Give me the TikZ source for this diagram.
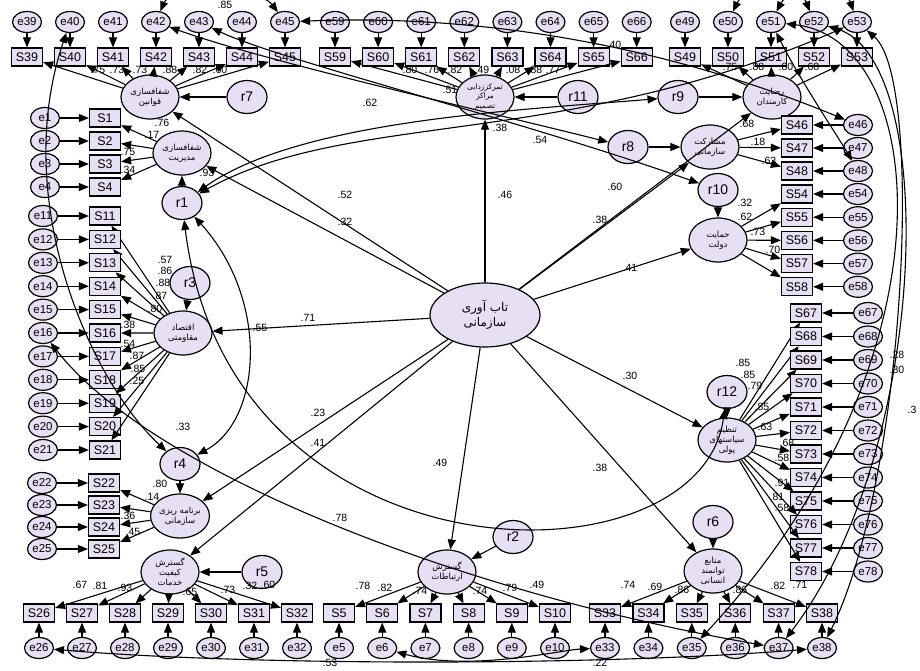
\documentclass[tikz,border=0pt]{standalone}
\usepackage{fontspec}
\setmainfont{Liberation Sans}
\newfontfamily\fafont[Script=Arabic]{DejaVu Sans}
\TeXXeTstate=1
\usetikzlibrary{shapes.geometric,arrows.meta}
\definecolor{lav}{RGB}{231,224,244}
\newcommand\RL[1]{\beginR #1\endR}
\begin{document}
\begin{tikzpicture}[x=1pt,y=-1pt,
  obs/.style={draw,line width=1.2pt,fill=lav,minimum width=31pt,minimum height=18pt,inner sep=0pt,font=\fontsize{12.5}{12.5}\selectfont},
  err/.style={draw,line width=1.2pt,ellipse,fill=lav,minimum width=29pt,minimum height=21pt,inner sep=0pt,font=\fontsize{11.5}{11.5}\selectfont},
  lat/.style={draw,line width=1.2pt,ellipse,fill=lav,minimum width=58pt,minimum height=44pt,inner sep=0pt,align=center,font=\fafont\fontsize{8.5}{10}\selectfont},
  res/.style={draw,line width=1.2pt,ellipse,fill=lav,minimum width=40pt,minimum height=33pt,inner sep=0pt,font=\fontsize{14}{14}\selectfont},
  arr/.style={-{Triangle[length=10pt,width=8pt]},line width=1.1pt},
  cov/.style={{Triangle[length=10pt,width=8pt]}-{Triangle[length=10pt,width=8pt]},line width=1.1pt},
  lab/.style={font=\fontsize{10.5}{10.5}\selectfont,inner sep=0pt}
]
\useasboundingbox (0,0) rectangle (920,670);
\fill[white] (0,0) rectangle (920,670);

% ---------- latent variables ----------
\node[lat,minimum width=110pt,minimum height=64pt,font=\fafont\fontsize{12}{15}\selectfont] (C) at (485,315) {\RL{تاب آوری}\\\RL{سازمانی}};
\node[lat] (L7) at (150,97) {\RL{شفافسازی}\\\RL{قوانین}};
\node[lat] (L1) at (182,153) {\RL{شفافسازی}\\\RL{مدیریت}};
\node[lat] (L3) at (183,333) {\RL{اقتصاد}\\\RL{مقاومتی}};
\node[lat] (L4) at (180,516) {\RL{برنامه ریزی}\\\RL{سازمانی}};
\node[lat] (L5) at (170,572) {\RL{گسترش}\\\RL{کیفیت}\\\RL{خدمات}};
\node[lat] (L2) at (447,572) {\RL{گسترش}\\\RL{ارتباطات}};
\node[lat] (L6) at (713,571) {\RL{منابع}\\\RL{توانمند}\\\RL{انسانی}};
\node[lat] (L12) at (727,440) {\RL{تنظیم}\\\RL{سیاستهای}\\\RL{پولی}};
\node[lat] (L10) at (718,240) {\RL{حمایت}\\\RL{دولت}};
\node[lat] (L8) at (710,147) {\RL{مشارکت}\\\RL{سازمانی}};
\node[lat] (L9) at (772,97) {\RL{رضایت}\\\RL{کارمندان}};
\node[lat,font=\fafont\fontsize{7.5}{9.5}\selectfont] (L11) at (485,97) {\RL{تمرکززدایی}\\\RL{مراکز}\\\RL{تصمیم}};

% ---------- residuals ----------
\node[res] (r7) at (247,97) {r7};
\node[res] (r1) at (182,203) {r1};
\node[res] (r3) at (190,283) {r3};
\node[res] (r4) at (180,464) {r4};
\node[res] (r5) at (262,572) {r5};
\node[res] (r2) at (513,537) {r2};
\node[res] (r6) at (713,522) {r6};
\node[res] (r12) at (727,392) {r12};
\node[res] (r10) at (718,190) {r10};
\node[res] (r8) at (628,147) {r8};
\node[res] (r9) at (678,97) {r9};
\node[res] (r11) at (578,97) {r11};

% ---------- indicators and errors ----------
\foreach \n [count=\i from 0] in {39,...,45} {
  \node[obs] (S\n) at ({27+43*\i},57) {S\n};
  \node[err] (e\n) at ({27+43*\i},22) {e\n};
  \draw[arr] (e\n) -- (S\n); \draw[arr] (L7) -- (S\n);}
\foreach \n [count=\i from 0] in {59,...,66} {
  \node[obs] (S\n) at ({335+43.1*\i},57) {S\n};
  \node[err] (e\n) at ({335+43.1*\i},22) {e\n};
  \draw[arr] (e\n) -- (S\n); \draw[arr] (L11) -- (S\n);}
\foreach \n [count=\i from 0] in {49,...,53} {
  \node[obs] (S\n) at ({685+43*\i},57) {S\n};
  \node[err] (e\n) at ({685+43*\i},22) {e\n};
  \draw[arr] (e\n) -- (S\n); \draw[arr] (L9) -- (S\n);}
\foreach \n/\y in {1/118,2/141,3/164,4/187} {
  \node[obs] (S\n) at (105,\y) {S\n};
  \node[err] (e\n) at (45,\y) {e\n};
  \draw[arr] (e\n) -- (S\n); \draw[arr] (L1) -- (S\n);}
\foreach \n [count=\i from 0] in {11,...,21} {
  \node[obs] (S\n) at (105,{216+23.4*\i}) {S\n};
  \node[err] (e\n) at (43,{216+23.4*\i}) {e\n};
  \draw[arr] (e\n) -- (S\n); \draw[arr] (L3) -- (S\n);}
\foreach \n/\y in {22/483,23/505,24/527,25/549} {
  \node[obs] (S\n) at (104,\y) {S\n};
  \node[err] (e\n) at (42,\y) {e\n};
  \draw[arr] (e\n) -- (S\n); \draw[arr] (L4) -- (S\n);}
\foreach \n [count=\i from 0] in {26,...,32} {
  \node[obs] (S\n) at ({39+43*\i},613) {S\n};
  \node[err] (e\n) at ({39+43*\i},648) {e\n};
  \draw[arr] (e\n) -- (S\n); \draw[arr] (L5) -- (S\n);}
\foreach \n [count=\i from 0] in {5,...,10} {
  \node[obs] (S\n) at ({339+43.2*\i},613) {S\n};
  \node[err] (e\n) at ({339+43.2*\i},648) {e\n};
  \draw[arr] (e\n) -- (S\n); \draw[arr] (L2) -- (S\n);}
\foreach \n [count=\i from 0] in {33,...,38} {
  \node[obs] (S\n) at ({605+43.4*\i},613) {S\n};
  \node[err] (e\n) at ({605+43.4*\i},648) {e\n};
  \draw[arr] (e\n) -- (S\n); \draw[arr] (L6) -- (S\n);}
\foreach \n/\y in {46/125,47/148,48/171} {
  \node[obs] (S\n) at (797,\y) {S\n};
  \node[err] (e\n) at (858,\y) {e\n};
  \draw[arr] (e\n) -- (S\n); \draw[arr] (L8) -- (S\n);}
\foreach \n [count=\i from 0] in {54,...,58} {
  \node[obs] (S\n) at (797,{194+23.2*\i}) {S\n};
  \node[err] (e\n) at (858,{194+23.2*\i}) {e\n};
  \draw[arr] (e\n) -- (S\n); \draw[arr] (L10) -- (S\n);}
\foreach \n [count=\i from 0] in {67,...,78} {
  \node[obs] (S\n) at (806,{313+23.5*\i}) {S\n};
  \node[err] (e\n) at (868,{313+23.5*\i}) {e\n};
  \draw[arr] (e\n) -- (S\n); \draw[arr] (L12) -- (S\n);}

% ---------- residual paths ----------
\foreach \r/\l in {r7/L7,r1/L1,r3/L3,r4/L4,r5/L5,r2/L2,r6/L6,r12/L12,r10/L10,r8/L8,r9/L9,r11/L11}
  \draw[arr] (\r) -- (\l);

% ---------- structural paths ----------
\foreach \l in {L7,L1,L3,L4,L5,L2,L6,L12,L10,L8,L9,L11}
  \draw[arr] (C) -- (\l);

% ---------- covariances ----------
\draw[cov] (r1) .. controls (230,590) and (700,590) .. (r12);
\draw[cov] (r1) .. controls (270,300) and (262,420) .. (r4);
\draw[cov] (e40) .. controls (10,200) and (90,380) .. (r4);
\draw[cov] (r1) .. controls (300,120) and (520,110) .. (r9);
\draw[cov] (r1) .. controls (350,110) and (560,150) .. (e53);
\draw[cov] (e42) .. controls (260,60) and (480,110) .. (r8);
\draw[cov] (e43) .. controls (280,60) and (520,120) .. (r10);
\draw[cov] (e42) .. controls (170,-12) and (260,-12) .. (e45);
\draw[cov] (e45) .. controls (450,15) and (640,35) .. (e46);
\draw[cov] (e50) .. controls (745,-14) and (800,-14) .. (e52);
\draw[cov] (e51) .. controls (790,-14) and (845,-14) .. (e53);
\draw[cov] (e51) .. controls (800,80) and (840,140) .. (e48);
\draw[cov] (e51) .. controls (930,40) and (960,360) .. (e35);
\draw[cov] (e52) .. controls (940,60) and (930,450) .. (e37);
\draw[cov] (e53) .. controls (925,80) and (905,480) .. (e38);
\draw[cov] (e26) .. controls (250,666) and (600,666) .. (e38);
\draw[cov] (e6) .. controls (470,672) and (560,650) .. (e33);
\draw[cov] (e16) .. controls (150,470) and (450,590) .. (e37);

% ---------- coefficient labels ----------
\foreach \t/\x/\y [count=\k] in {
 .52/345/195, .32/345/222, .46/505/195, .60/615/187, .38/600/220, .41/630/268,
 .30/630/376, .38/600/468, .49/440/463, .23/318/413, .41/318/443, .71/308/318, .55/260/328,
 .62/370/103, .54/540/140, .38/500/128, .33/183/427, .78/340/518, .53/330/663, .22/600/663,
 .28/897/355, .30/897/370, .3/912/410, .85/225/5, .40/614/45, .51/450/90,
 .75/98/70, .73/117/70, .73/140/70, .88/170/70, .82/200/70, .60/220/70,
 .76/162/123, .17/152/135, .75/128/152, .34/128/170, .93/207/173,
 .57/165/260, .86/165/271, .88/163/283, .87/160/296, .80/155/309, .38/128/325,
 .54/128/344, .87/137/356, .85/138/369, .25/137/381,
 .80/160/484, .14/152/497, .36/128/516, .45/133/532,
 .67/80/585, .81/100/586, .93/125/588, .65/190/592, .73/228/590, .32/250/586, .60/268/585,
 .78/363/586, .82/385/588, .74/420/591, .74/480/591, .79/510/588, .49/537/585,
 .74/628/585, .69/655/587, .86/682/590, .86/740/590, .82/778/586, .71/800/585,
 .85/743/363, .85/748/375, .79/755/386, .85/762/407, .63/765/427, .68/787/443,
 .58/782/458, .91/782/483, .81/777/497, .58/782/508,
 .32/745/203, .62/745/217, .73/758/232, .70/773/250,
 .68/747/124, .18/758/142, .63/769/161,
 .75/730/67, .88/757/67, .80/786/67, .68/812/67,
 .80/410/70, .76/432/70, .82/455/70, .49/482/70, .08/513/70, .88/535/70, .77/553/70}
 \node[lab] (lb\k) at (\x,\y) {\t};
\end{tikzpicture}
\end{document}
